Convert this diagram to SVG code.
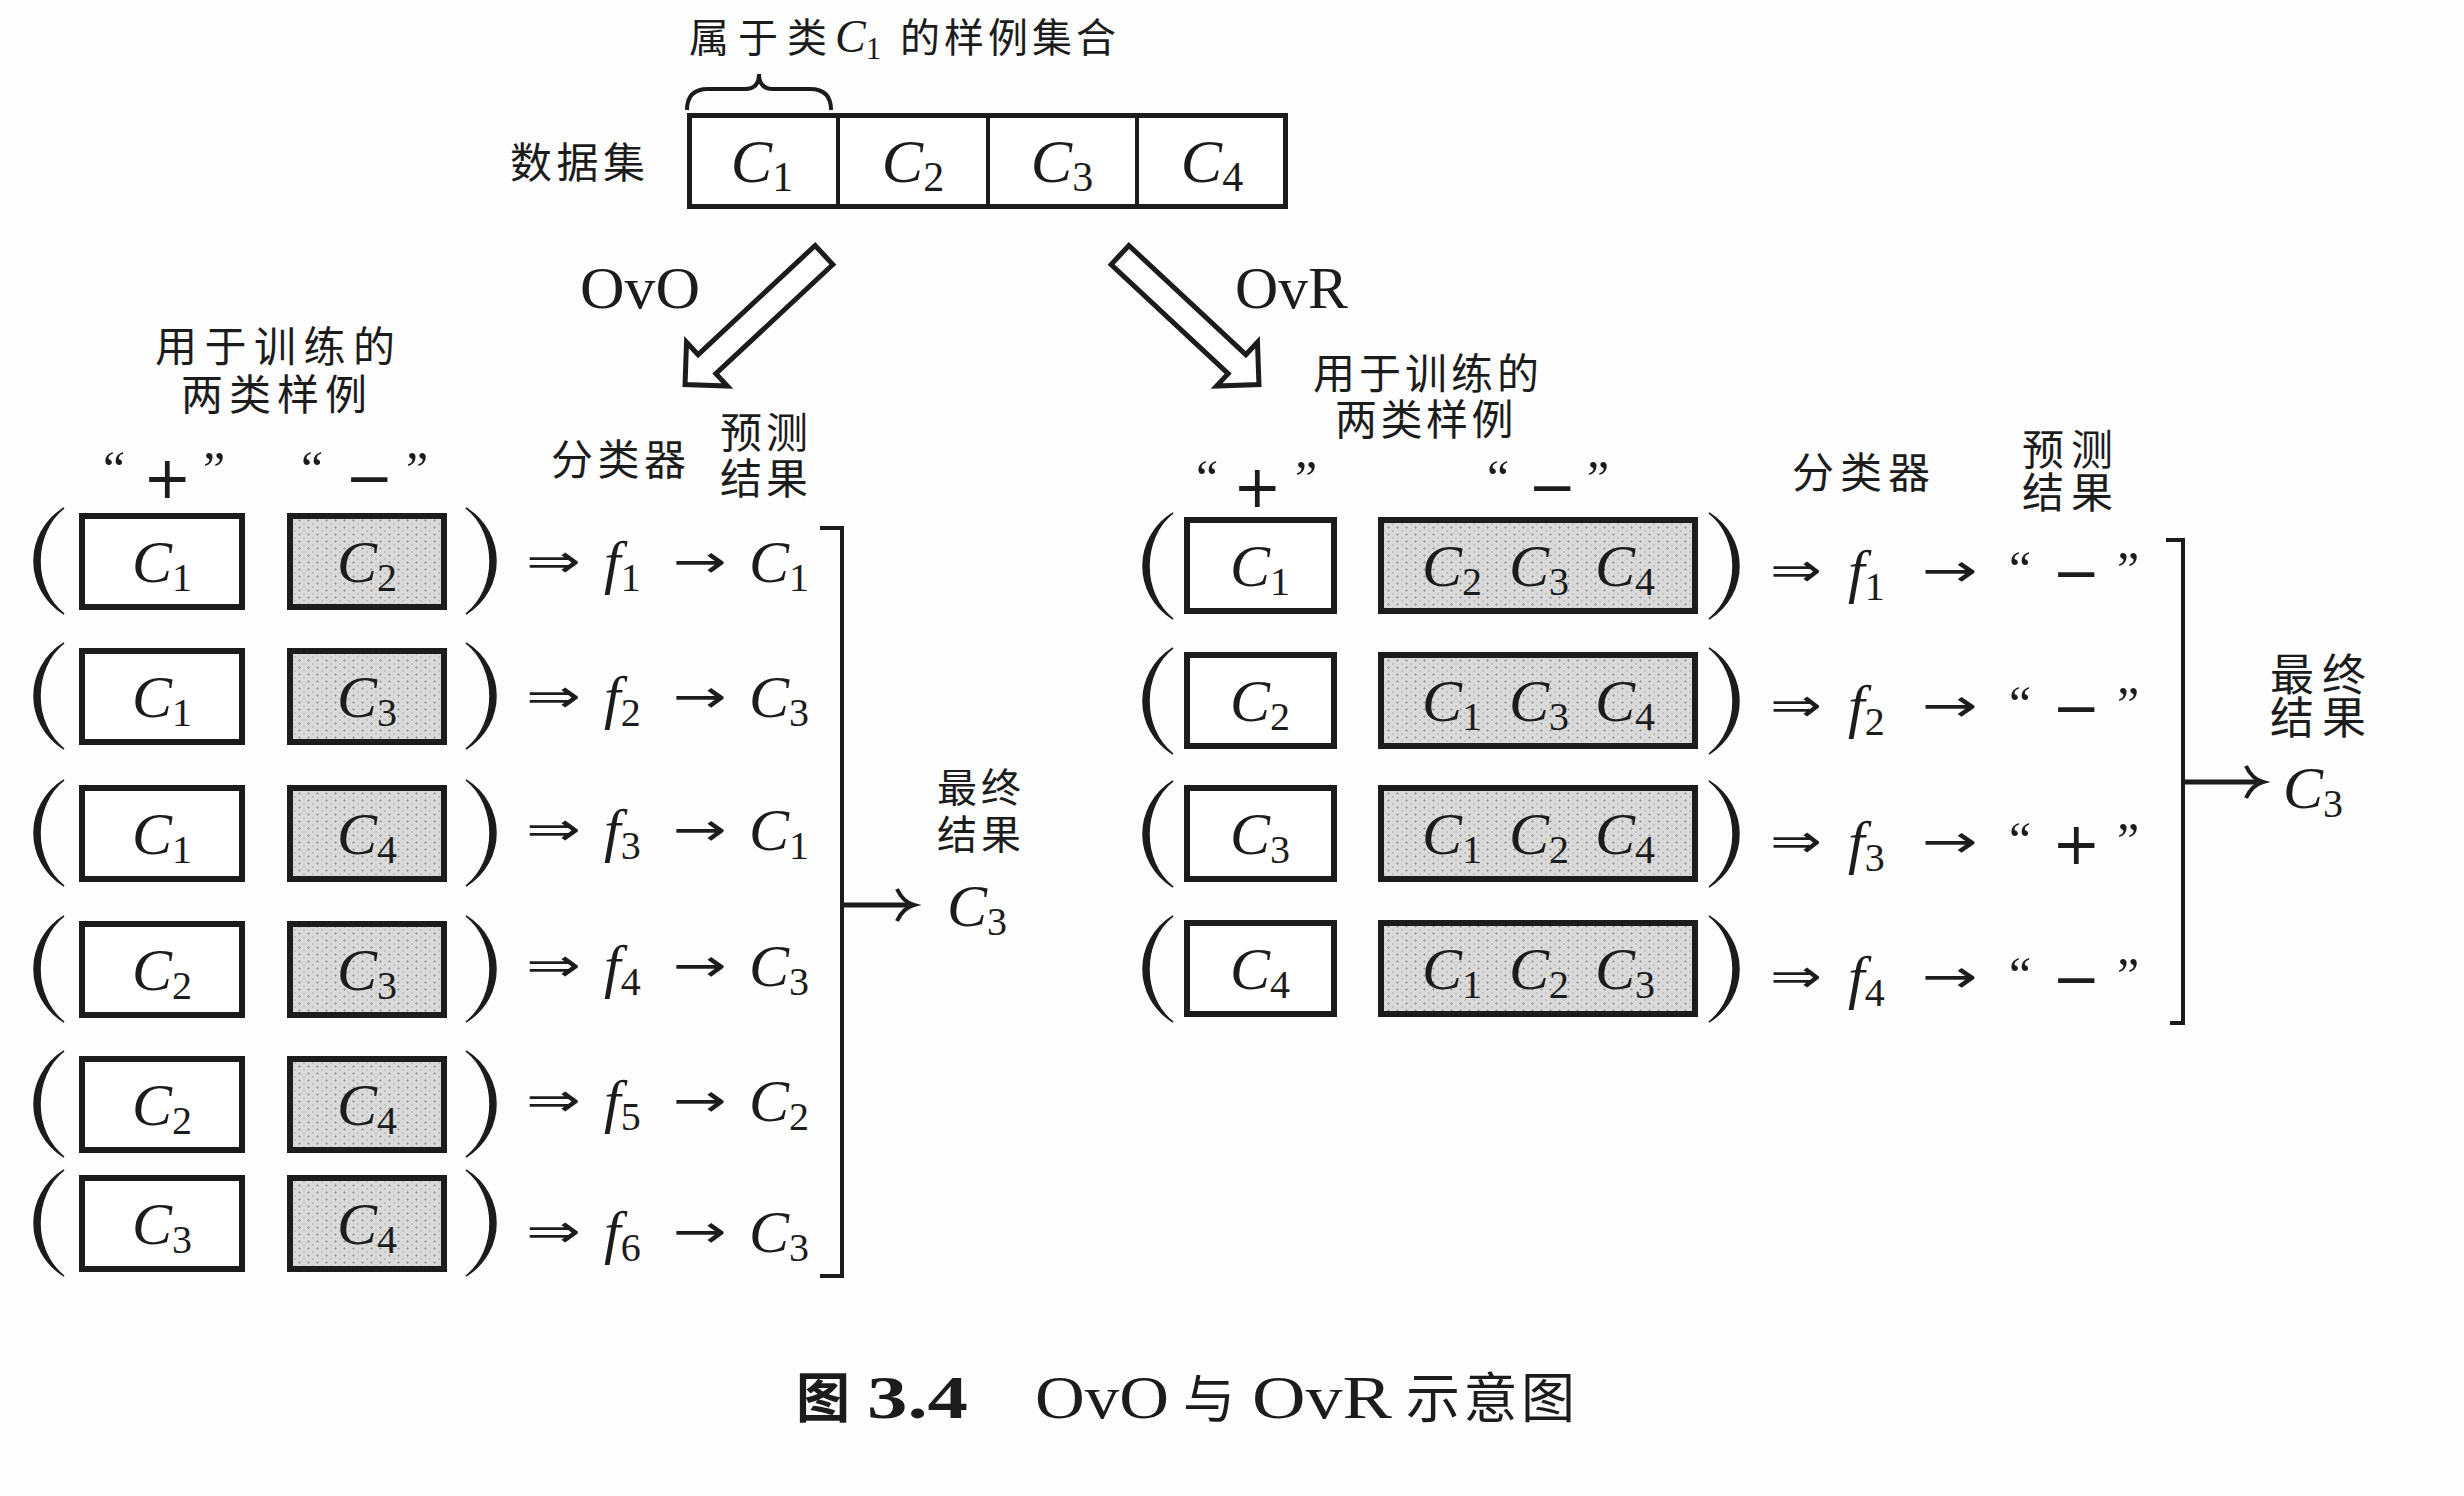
<svg xmlns="http://www.w3.org/2000/svg" width="2464" height="1496" viewBox="0 0 2464 1496">
<style>
.cjk{font-family:"Noto Sans CJK SC","Noto Sans CJK JP",sans-serif;font-size:42px;fill:#1c1c1c}
.m{font-family:"Liberation Serif",serif;font-style:italic;font-size:60px;fill:#1c1c1c}
.s{font-style:normal;font-size:40px}
.rm{font-family:"Liberation Serif",serif;fill:#1c1c1c}
.ar{font-family:"DejaVu Sans",sans-serif;font-size:46px;fill:#1c1c1c}
.q{font-family:"Liberation Serif",serif;font-size:50px;fill:#1c1c1c}
.sg{font-family:"DejaVu Sans",sans-serif;font-size:58px;fill:#1c1c1c}
.pb{fill:#fff;stroke:#1c1c1c;stroke-width:6}
.nb{fill:url(#stip);stroke:#1c1c1c;stroke-width:6}
.par{fill:#1c1c1c;stroke:#1c1c1c;stroke-width:1.5}
.ln{fill:none;stroke:#1c1c1c;stroke-width:4}
.hollow{fill:#fff;stroke:#1c1c1c;stroke-width:5;stroke-linejoin:miter}
</style>
<defs>
<pattern id="stip" width="9" height="7" patternUnits="userSpaceOnUse">
<rect width="9" height="7" fill="#dadada"/>
<path d="M1,2.5h3M2.5,1v3M6,6h2" stroke="#9a9a9a" stroke-width="0.7"/>
</pattern>
<path id="lp" d="M30,0 C-10,25 -10,81 30,106 C-2,81 -2,25 30,0 Z"/>
<path id="rp" d="M0,0 C40,25 40,81 0,106 C32,81 32,25 0,0 Z"/>
</defs>
<rect width="2464" height="1496" fill="#fdfdfd"/>

<!-- Dataset -->
<g id="dataset">
<text class="cjk" x="689" y="52" style="font-size:40px;letter-spacing:9px">属于类</text>
<text class="m" x="835" y="52" style="font-size:46px">C<tspan class="s" style="font-size:31px" dy="7">1</tspan></text>
<text class="cjk" x="900" y="52" style="font-size:40px;letter-spacing:4px">的样例集合</text>
<path class="ln" d="M687,110 Q687,89 708,89 L745,89 Q759,89 759,74 Q759,89 773,89 L810,89 Q831,89 831,110"/>
<text class="cjk" x="510" y="178" style="letter-spacing:4.5px">数据集</text>
<rect x="689.5" y="115.5" width="596" height="91" fill="#fff" stroke="#1c1c1c" stroke-width="5"/>
<path d="M838,115V207M988,115V207M1137,115V207" stroke="#1c1c1c" stroke-width="4"/>
<text class="m" x="762" y="182" text-anchor="middle" style="font-size:62px">C<tspan class="s" style="font-size:42px" dy="9">1</tspan></text>
<text class="m" x="913" y="182" text-anchor="middle" style="font-size:62px">C<tspan class="s" style="font-size:42px" dy="9">2</tspan></text>
<text class="m" x="1062" y="182" text-anchor="middle" style="font-size:62px">C<tspan class="s" style="font-size:42px" dy="9">3</tspan></text>
<text class="m" x="1212" y="182" text-anchor="middle" style="font-size:62px">C<tspan class="s" style="font-size:42px" dy="9">4</tspan></text>
</g>

<!-- Hollow arrows -->
<g id="split-arrows">
<polygon class="hollow" transform="translate(824,255) rotate(137)" points="0,-13 160,-13 160,-30 190,0 160,30 160,13 0,13"/>
<polygon class="hollow" transform="translate(1120,255) rotate(43)" points="0,-13 160,-13 160,-30 190,0 160,30 160,13 0,13"/>
<text class="rm" x="580" y="308" style="font-size:60px" textLength="120" lengthAdjust="spacingAndGlyphs">OvO</text>
<text class="rm" x="1235" y="308" style="font-size:60px" textLength="113" lengthAdjust="spacingAndGlyphs">OvR</text>
</g>

<!-- OvO panel headers -->
<g id="ovo-headers">
<text class="cjk"><tspan x="155" y="362" style="letter-spacing:7.5px">用于训练的</tspan><tspan x="181" y="410" style="letter-spacing:6px">两类样例</tspan></text>
<text class="q" x="103" y="486">“</text><text class="sg" x="143" y="498">+</text><text class="q" x="203" y="486">”</text>
<text class="q" x="301" y="486">“</text><text class="sg" x="345" y="498">−</text><text class="q" x="406" y="486">”</text>
<text class="cjk" x="551" y="475" style="letter-spacing:4.5px">分类器</text>
<text class="cjk"><tspan x="720" y="448" style="letter-spacing:4px">预测</tspan><tspan x="720" y="494" style="letter-spacing:4px">结果</tspan></text>
</g>

<!-- OvO rows -->
<g id="ovo-row1">
<use href="#lp" class="par" transform="translate(34,508)"/><use href="#rp" class="par" transform="translate(466,508)"/>
<rect class="pb" x="82" y="516" width="160" height="91"/><rect class="nb" x="290" y="516" width="154" height="91"/>
<text class="m" x="162" y="582" text-anchor="middle">C<tspan class="s" dy="9">1</tspan></text>
<text class="m" x="367" y="582" text-anchor="middle">C<tspan class="s" dy="9">2</tspan></text>
<text class="ar" x="526" y="577" textLength="55" lengthAdjust="spacingAndGlyphs">⇒</text>
<text class="m" x="604" y="582">f<tspan class="s" dy="9">1</tspan></text>
<text class="ar" x="673" y="577" textLength="54" lengthAdjust="spacingAndGlyphs">→</text>
<text class="m" x="749" y="582">C<tspan class="s" dy="9">1</tspan></text>
</g>
<g id="ovo-row2">
<use href="#lp" class="par" transform="translate(34,643)"/><use href="#rp" class="par" transform="translate(466,643)"/>
<rect class="pb" x="82" y="651" width="160" height="91"/><rect class="nb" x="290" y="651" width="154" height="91"/>
<text class="m" x="162" y="717" text-anchor="middle">C<tspan class="s" dy="9">1</tspan></text>
<text class="m" x="367" y="717" text-anchor="middle">C<tspan class="s" dy="9">3</tspan></text>
<text class="ar" x="526" y="712" textLength="55" lengthAdjust="spacingAndGlyphs">⇒</text>
<text class="m" x="604" y="717">f<tspan class="s" dy="9">2</tspan></text>
<text class="ar" x="673" y="712" textLength="54" lengthAdjust="spacingAndGlyphs">→</text>
<text class="m" x="749" y="717">C<tspan class="s" dy="9">3</tspan></text>
</g>
<g id="ovo-row3">
<use href="#lp" class="par" transform="translate(34,780)"/><use href="#rp" class="par" transform="translate(466,780)"/>
<rect class="pb" x="82" y="788" width="160" height="91"/><rect class="nb" x="290" y="788" width="154" height="91"/>
<text class="m" x="162" y="854" text-anchor="middle">C<tspan class="s" dy="9">1</tspan></text>
<text class="m" x="367" y="854" text-anchor="middle">C<tspan class="s" dy="9">4</tspan></text>
<text class="ar" x="526" y="845" textLength="55" lengthAdjust="spacingAndGlyphs">⇒</text>
<text class="m" x="604" y="850">f<tspan class="s" dy="9">3</tspan></text>
<text class="ar" x="673" y="845" textLength="54" lengthAdjust="spacingAndGlyphs">→</text>
<text class="m" x="749" y="850">C<tspan class="s" dy="9">1</tspan></text>
</g>
<g id="ovo-row4">
<use href="#lp" class="par" transform="translate(34,916)"/><use href="#rp" class="par" transform="translate(466,916)"/>
<rect class="pb" x="82" y="924" width="160" height="91"/><rect class="nb" x="290" y="924" width="154" height="91"/>
<text class="m" x="162" y="990" text-anchor="middle">C<tspan class="s" dy="9">2</tspan></text>
<text class="m" x="367" y="990" text-anchor="middle">C<tspan class="s" dy="9">3</tspan></text>
<text class="ar" x="526" y="981" textLength="55" lengthAdjust="spacingAndGlyphs">⇒</text>
<text class="m" x="604" y="986">f<tspan class="s" dy="9">4</tspan></text>
<text class="ar" x="673" y="981" textLength="54" lengthAdjust="spacingAndGlyphs">→</text>
<text class="m" x="749" y="986">C<tspan class="s" dy="9">3</tspan></text>
</g>
<g id="ovo-row5">
<use href="#lp" class="par" transform="translate(34,1051)"/><use href="#rp" class="par" transform="translate(466,1051)"/>
<rect class="pb" x="82" y="1059" width="160" height="91"/><rect class="nb" x="290" y="1059" width="154" height="91"/>
<text class="m" x="162" y="1125" text-anchor="middle">C<tspan class="s" dy="9">2</tspan></text>
<text class="m" x="367" y="1125" text-anchor="middle">C<tspan class="s" dy="9">4</tspan></text>
<text class="ar" x="526" y="1116" textLength="55" lengthAdjust="spacingAndGlyphs">⇒</text>
<text class="m" x="604" y="1121">f<tspan class="s" dy="9">5</tspan></text>
<text class="ar" x="673" y="1116" textLength="54" lengthAdjust="spacingAndGlyphs">→</text>
<text class="m" x="749" y="1121">C<tspan class="s" dy="9">2</tspan></text>
</g>
<g id="ovo-row6">
<use href="#lp" class="par" transform="translate(34,1170)"/><use href="#rp" class="par" transform="translate(466,1170)"/>
<rect class="pb" x="82" y="1178" width="160" height="91"/><rect class="nb" x="290" y="1178" width="154" height="91"/>
<text class="m" x="162" y="1244" text-anchor="middle">C<tspan class="s" dy="9">3</tspan></text>
<text class="m" x="367" y="1244" text-anchor="middle">C<tspan class="s" dy="9">4</tspan></text>
<text class="ar" x="526" y="1247" textLength="55" lengthAdjust="spacingAndGlyphs">⇒</text>
<text class="m" x="604" y="1252">f<tspan class="s" dy="9">6</tspan></text>
<text class="ar" x="673" y="1247" textLength="54" lengthAdjust="spacingAndGlyphs">→</text>
<text class="m" x="749" y="1252">C<tspan class="s" dy="9">3</tspan></text>
</g>
<g id="ovo-final">
<text class="cjk" style="font-size:40px"><tspan x="937" y="802" style="letter-spacing:4px">最终</tspan><tspan x="937" y="849" style="letter-spacing:4px">结果</tspan></text>
<text class="m" x="947" y="926">C<tspan class="s" dy="9">3</tspan></text>
</g>

<!-- OvR panel headers -->
<g id="ovr-headers">
<text class="cjk"><tspan x="1313" y="389" style="letter-spacing:4px">用于训练的</tspan><tspan x="1335" y="435" style="letter-spacing:3.5px">两类样例</tspan></text>
<text class="q" x="1196" y="495">“</text><text class="sg" x="1233" y="507">+</text><text class="q" x="1295" y="495">”</text>
<text class="q" x="1487" y="495">“</text><text class="sg" x="1528" y="507">−</text><text class="q" x="1587" y="495">”</text>
<text class="cjk" x="1792" y="488" style="letter-spacing:6px">分类器</text>
<text class="cjk"><tspan x="2022" y="465" style="letter-spacing:7px">预测</tspan><tspan x="2022" y="508" style="letter-spacing:7px">结果</tspan></text>
</g>

<!-- OvR rows -->
<g id="ovr-row1">
<use href="#lp" class="par" transform="translate(1143,513)"/><use href="#rp" class="par" transform="translate(1709,513)"/>
<rect class="pb" x="1187" y="520" width="147" height="91"/><rect class="nb" x="1381" y="520" width="314" height="91"/>
<text class="m" x="1260" y="586" text-anchor="middle">C<tspan class="s" dy="9">1</tspan></text>
<text class="m" x="1422" y="586">C<tspan class="s" dy="9">2</tspan></text>
<text class="m" x="1509" y="586">C<tspan class="s" dy="9">3</tspan></text>
<text class="m" x="1595" y="586">C<tspan class="s" dy="9">4</tspan></text>
<text class="ar" x="1770" y="586" textLength="52" lengthAdjust="spacingAndGlyphs">⇒</text>
<text class="m" x="1848" y="591">f<tspan class="s" dy="9">1</tspan></text>
<text class="ar" x="1922" y="586" textLength="56" lengthAdjust="spacingAndGlyphs">→</text>
<text class="q" x="2009" y="586">“</text><text class="sg" x="2052" y="593">−</text><text class="q" x="2117" y="586">”</text>
</g>
<g id="ovr-row2">
<use href="#lp" class="par" transform="translate(1143,648)"/><use href="#rp" class="par" transform="translate(1709,648)"/>
<rect class="pb" x="1187" y="655" width="147" height="91"/><rect class="nb" x="1381" y="655" width="314" height="91"/>
<text class="m" x="1260" y="721" text-anchor="middle">C<tspan class="s" dy="9">2</tspan></text>
<text class="m" x="1422" y="721">C<tspan class="s" dy="9">1</tspan></text>
<text class="m" x="1509" y="721">C<tspan class="s" dy="9">3</tspan></text>
<text class="m" x="1595" y="721">C<tspan class="s" dy="9">4</tspan></text>
<text class="ar" x="1770" y="721" textLength="52" lengthAdjust="spacingAndGlyphs">⇒</text>
<text class="m" x="1848" y="726">f<tspan class="s" dy="9">2</tspan></text>
<text class="ar" x="1922" y="721" textLength="56" lengthAdjust="spacingAndGlyphs">→</text>
<text class="q" x="2009" y="721">“</text><text class="sg" x="2052" y="728">−</text><text class="q" x="2117" y="721">”</text>
</g>
<g id="ovr-row3">
<use href="#lp" class="par" transform="translate(1143,781)"/><use href="#rp" class="par" transform="translate(1709,781)"/>
<rect class="pb" x="1187" y="788" width="147" height="91"/><rect class="nb" x="1381" y="788" width="314" height="91"/>
<text class="m" x="1260" y="854" text-anchor="middle">C<tspan class="s" dy="9">3</tspan></text>
<text class="m" x="1422" y="854">C<tspan class="s" dy="9">1</tspan></text>
<text class="m" x="1509" y="854">C<tspan class="s" dy="9">2</tspan></text>
<text class="m" x="1595" y="854">C<tspan class="s" dy="9">4</tspan></text>
<text class="ar" x="1770" y="857" textLength="52" lengthAdjust="spacingAndGlyphs">⇒</text>
<text class="m" x="1848" y="862">f<tspan class="s" dy="9">3</tspan></text>
<text class="ar" x="1922" y="857" textLength="56" lengthAdjust="spacingAndGlyphs">→</text>
<text class="q" x="2009" y="857">“</text><text class="sg" x="2052" y="864">+</text><text class="q" x="2117" y="857">”</text>
</g>
<g id="ovr-row4">
<use href="#lp" class="par" transform="translate(1143,916)"/><use href="#rp" class="par" transform="translate(1709,916)"/>
<rect class="pb" x="1187" y="923" width="147" height="91"/><rect class="nb" x="1381" y="923" width="314" height="91"/>
<text class="m" x="1260" y="989" text-anchor="middle">C<tspan class="s" dy="9">4</tspan></text>
<text class="m" x="1422" y="989">C<tspan class="s" dy="9">1</tspan></text>
<text class="m" x="1509" y="989">C<tspan class="s" dy="9">2</tspan></text>
<text class="m" x="1595" y="989">C<tspan class="s" dy="9">3</tspan></text>
<text class="ar" x="1770" y="992" textLength="52" lengthAdjust="spacingAndGlyphs">⇒</text>
<text class="m" x="1848" y="997">f<tspan class="s" dy="9">4</tspan></text>
<text class="ar" x="1922" y="992" textLength="56" lengthAdjust="spacingAndGlyphs">→</text>
<text class="q" x="2009" y="992">“</text><text class="sg" x="2052" y="999">−</text><text class="q" x="2117" y="992">”</text>
</g>
<g id="ovr-final">
<text class="cjk" style="font-size:44px"><tspan x="2270" y="691" style="letter-spacing:8px">最终</tspan><tspan x="2270" y="734" style="letter-spacing:8px">结果</tspan></text>
<text class="m" x="2283" y="808">C<tspan class="s" dy="9">3</tspan></text>
</g>

<!-- Connectors -->
<g id="connectors">
<path class="ln" d="M820,528 H842 V1276 H820"/>
<path d="M842,905 H908" stroke="#1c1c1c" stroke-width="5" fill="none"/>
<path class="ln" d="M897,889 Q903,902 914,905 Q903,908 897,921"/>
<path class="ln" d="M2166,540 H2183 V1023 H2170"/>
<path d="M2183,782 H2257" stroke="#1c1c1c" stroke-width="5" fill="none"/>
<path class="ln" d="M2246,766 Q2252,779 2263,782 Q2252,785 2246,798"/>
</g>

<!-- Caption -->
<g id="caption">
<text class="cjk" x="796" y="1418" style="font-size:54px;font-weight:700">图</text>
<text class="rm" x="867" y="1418" style="font-size:62px;font-weight:700" textLength="101" lengthAdjust="spacingAndGlyphs">3.4</text>
<text class="rm" x="1035" y="1418" style="font-size:62px" textLength="134" lengthAdjust="spacingAndGlyphs">OvO</text>
<text class="cjk" x="1183" y="1418" style="font-size:52px">与</text>
<text class="rm" x="1252" y="1418" style="font-size:62px" textLength="140" lengthAdjust="spacingAndGlyphs">OvR</text>
<text class="cjk" x="1406" y="1418" style="font-size:54px;letter-spacing:3.5px">示意图</text>
</g>
</svg>
